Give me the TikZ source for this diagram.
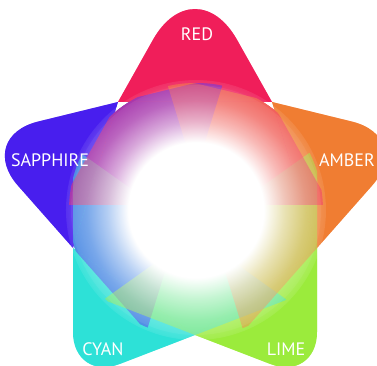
\documentclass[tikz,border=0pt]{standalone}
\usepackage{fontspec}
\setmainfont{PT Sans}
\usetikzlibrary{calc,fadings}
\definecolor{cred}{RGB}{240,30,90}
\definecolor{camber}{RGB}{240,125,50}
\definecolor{clime}{RGB}{155,235,60}
\definecolor{ccyan}{RGB}{45,225,215}
\definecolor{csapph}{RGB}{72,30,238}
\pgfdeclareradialshading{glowshade}{\pgfpoint{0bp}{0bp}}{color(0bp)=(white); color(13bp)=(white); color(17bp)=(white!60!black); color(21bp)=(white!28!black); color(25bp)=(white!8!black); color(28.45bp)=(black); color(50bp)=(black)}
\pgfdeclarefading{glow}{\pgfuseshading{glowshade}}
% #1 name, #2 apex, #3 inner vertex 1, #4 inner vertex 2, #5 rounding distance
\newcommand\mkpetal[5]{%
  \coordinate (#1i1) at (#3);
  \coordinate (#1i2) at (#4);
  \coordinate (#1a) at ($(#2)!1.75!(#3)$);
  \coordinate (#1b) at ($(#2)!1.75!(#4)$);
  \coordinate (#1p) at ($(#2)!#5!(#3)$);
  \coordinate (#1q) at ($(#2)!#5!(#4)$);
  \coordinate (#1c1) at ($(#1p)!0.55!(#2)$);
  \coordinate (#1c2) at ($(#1q)!0.55!(#2)$);
}
\newcommand\tippart[1]{(#1i1) -- (#1p) .. controls (#1c1) and (#1c2) .. (#1q) -- (#1i2) -- cycle}
\newcommand\extpart[1]{(#1i1) -- (#1a) -- (#1b) -- (#1i2) -- cycle}
\newcommand\drawpetal[2]{%
  \fill[#2] \tippart{#1};
  \begin{scope}\clip (C) circle (127); \fill[#2] \extpart{#1};\end{scope}}
\begin{document}
\begin{tikzpicture}[x=1pt,y=-1pt,
  lbl/.style={text=white,inner sep=0pt,font=\fontsize{18}{20}\selectfont},
  mix/.style={opacity=0.5}]
\useasboundingbox (0,0) rectangle (377,366);
\clip (0,0) rectangle (377,366);
\coordinate (C) at (196,210);
\coordinate (tR) at (195,-35);
\coordinate (tS) at (-25,137);
\coordinate (tA) at (415,137);
\coordinate (tC) at (73,382);
\coordinate (tL) at (317,382);
\coordinate (iRS) at (118,102);
\coordinate (iRA) at (272,102);
\coordinate (iSC) at (73,248);
\coordinate (iAL) at (317,248);
\coordinate (iCL) at (195,335);
\mkpetal{R}{tR}{iRS}{iRA}{86pt}
\mkpetal{S}{tS}{iRS}{iSC}{65pt}
\mkpetal{A}{tA}{iRA}{iAL}{65pt}
\mkpetal{Y}{tC}{iSC}{iCL}{50pt}
\mkpetal{L}{tL}{iAL}{iCL}{50pt}
% opaque pass
\drawpetal{R}{cred}
\drawpetal{A}{camber}
\drawpetal{L}{clime}
\drawpetal{Y}{ccyan}
\drawpetal{S}{csapph}
% mixing pass
\drawpetal{S}{csapph,mix}
\drawpetal{Y}{ccyan,mix}
\drawpetal{L}{clime,mix}
\drawpetal{A}{camber,mix}
\drawpetal{R}{cred,mix}
% glow
\fill[white,opacity=0.06] (C) circle (125);
\fill[white,path fading=glow] (C) circle (130);
% labels
\node[lbl] (lred) at (197,34) {RED};
\node[lbl] (lsap) at (50,160) {SAPPHIRE};
\node[lbl] (lamb) at (347,160) {AMBER};
\node[lbl] (lcyan) at (103,349) {CYAN};
\node[lbl] (llime) at (286,349) {LIME};
\end{tikzpicture}
\end{document}
